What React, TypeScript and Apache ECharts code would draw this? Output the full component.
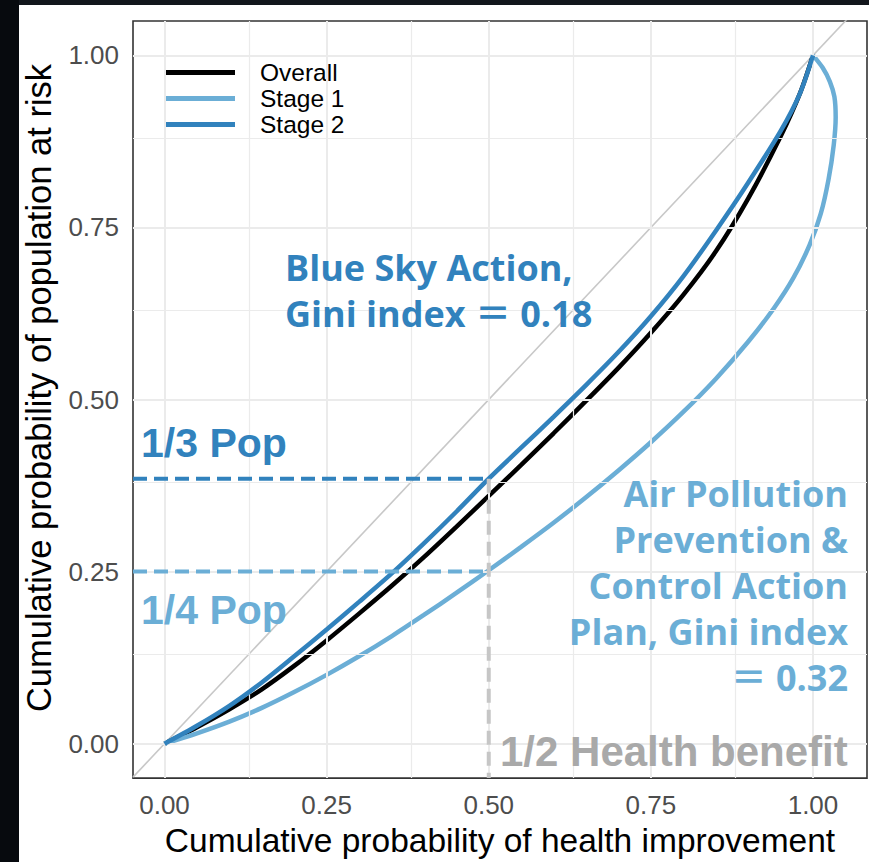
import React, { useEffect, useRef } from 'react';
import * as echarts from 'echarts';

const xLimits = [-0.0486, 1.0833];
const yLimits = [-0.05, 1.05];
const majorBreaks = [0, 0.25, 0.5, 0.75, 1];
const minorBreaks = [0.125, 0.375, 0.625, 0.875];
const seriesNames = ['Overall', 'Stage 1', 'Stage 2'];

const overall: [number, number][] = [
  [0, 0], [0.05, 0.024], [0.1, 0.05], [0.15, 0.079], [0.2, 0.113], [0.25, 0.15],
  [0.3, 0.189], [0.35, 0.229], [0.4, 0.271], [0.45, 0.315], [0.5, 0.36], [0.55, 0.405],
  [0.6, 0.451], [0.65, 0.498], [0.7, 0.546], [0.75, 0.597], [0.8, 0.652], [0.85, 0.715],
  [0.9, 0.792], [0.95, 0.882], [0.98, 0.945], [1, 1],
];

const stage1: [number, number][] = [
  [0, 0], [0.05, 0.015], [0.1, 0.032], [0.15, 0.052], [0.2, 0.075], [0.25, 0.1],
  [0.3, 0.127], [0.35, 0.156], [0.4, 0.187], [0.45, 0.219], [0.5, 0.252], [0.55, 0.286],
  [0.6, 0.321], [0.65, 0.358], [0.7, 0.397], [0.75, 0.438], [0.8, 0.482], [0.85, 0.53],
  [0.9, 0.584], [0.94, 0.633], [0.97, 0.677], [0.995, 0.725], [1.012, 0.77], [1.024, 0.82],
  [1.032, 0.87], [1.035, 0.91], [1.033, 0.94], [1.026, 0.962], [1.015, 0.982], [1, 1],
];

const stage2: [number, number][] = [
  [0, 0], [0.05, 0.026], [0.1, 0.055], [0.15, 0.089], [0.2, 0.127], [0.25, 0.166],
  [0.3, 0.206], [0.35, 0.247], [0.4, 0.291], [0.45, 0.337], [0.5, 0.385], [0.55, 0.43],
  [0.6, 0.475], [0.65, 0.521], [0.7, 0.569], [0.75, 0.621], [0.8, 0.679], [0.85, 0.745],
  [0.9, 0.815], [0.95, 0.89], [0.98, 0.945], [1, 1],
];

const popThird = 0.385;
const popQuarter = 0.25;
const halfBenefit = 0.5;

const C_OVERALL = '#000000';
const C_STAGE1 = '#6baed6';
const C_STAGE2 = '#3182bd';
const C_GRAY_TEXT = '#a9a9a9';
const C_GRAY_DASH = '#c6c6c6';
const C_GRID = '#ebebeb';

const FONT = '"Liberation Sans", Arial, sans-serif';
const ANNOT_FONT = '"Open Sans", "Noto Sans CJK JP", sans-serif';

export default function App() {
  const ref = useRef<HTMLDivElement>(null);

  useEffect(() => {
    if (!ref.current) return;
    const chart = echarts.init(ref.current, undefined, { renderer: 'svg' });

    const gridLines = [
      ...majorBreaks.map((b) => ({ xAxis: b, lineStyle: { width: 2 } })),
      ...minorBreaks.map((b) => ({ xAxis: b, lineStyle: { width: 1.2 } })),
      ...majorBreaks.map((b) => ({ yAxis: b, lineStyle: { width: 2 } })),
      ...minorBreaks.map((b) => ({ yAxis: b, lineStyle: { width: 1.2 } })),
    ];

    const curve = (name: string, data: [number, number][], color: string, z: number) => ({
      name,
      type: 'line',
      data,
      color,
      smooth: 0.3,
      symbol: 'none',
      showSymbol: false,
      lineStyle: { color, width: 4.5 },
      z,
    });

    const dashed = (data: [number, number][], color: string) => ({
      type: 'line',
      data,
      symbol: 'none',
      showSymbol: false,
      lineStyle: { color, width: 4, type: [14, 7] },
      z: 6,
    });

    const annot = (text: string, x: number, y: number, color: string, align: string) => ({
      type: 'text', x, y, z: 10,
      style: {
        text, fill: color, fontFamily: ANNOT_FONT, fontWeight: 'bold', fontSize: 36,
        align, verticalAlign: 'middle',
      },
    });

    chart.setOption({
      animation: false,
      backgroundColor: '#ffffff',
      textStyle: { fontFamily: FONT },
      grid: {
        left: 133,
        right: 2,
        top: 21,
        bottom: 82,
        show: true,
        backgroundColor: '#ffffff',
        borderColor: '#333333',
        borderWidth: 1.6,
        containLabel: false,
      },
      legend: {
        data: seriesNames,
        orient: 'vertical',
        left: 165,
        top: 60,
        icon: 'rect',
        itemWidth: 70,
        itemHeight: 5,
        itemGap: 1,
        padding: 0,
        textStyle: {
          fontSize: 24.5,
          fontFamily: FONT,
          color: '#000000',
          lineHeight: 25,
          padding: [0, 0, 0, 20],
        },
      },
      xAxis: {
        type: 'value',
        min: xLimits[0],
        max: xLimits[1],
        name: 'Cumulative probability of health improvement',
        nameLocation: 'middle',
        nameGap: 40,
        nameTextStyle: { fontSize: 33.5, color: '#000000', fontFamily: FONT },
        axisLine: { show: false },
        splitLine: { show: false },
        axisTick: {
          show: true,
          customValues: majorBreaks,
          length: 8,
          lineStyle: { color: '#333333', width: 2 },
        },
        axisLabel: {
          customValues: majorBreaks,
          formatter: (v: number) => v.toFixed(2),
          fontSize: 26,
          color: '#4d4d4d',
          margin: 14,
          fontFamily: FONT,
        },
      },
      yAxis: {
        type: 'value',
        min: yLimits[0],
        max: yLimits[1],
        axisLine: { show: false },
        splitLine: { show: false },
        axisTick: {
          show: true,
          customValues: majorBreaks,
          length: 8,
          lineStyle: { color: '#333333', width: 2 },
        },
        axisLabel: {
          customValues: majorBreaks,
          formatter: (v: number) => v.toFixed(2),
          fontSize: 26,
          color: '#4d4d4d',
          margin: 14,
          fontFamily: FONT,
        },
      },
      series: [
        {
          name: 'grid-lines',
          type: 'line',
          data: [],
          symbol: 'none',
          z: 1,
          markLine: {
            silent: true,
            symbol: ['none', 'none'],
            label: { show: false },
            lineStyle: { color: C_GRID, type: 'solid' },
            data: gridLines,
          },
        },
        {
          name: 'diagonal',
          type: 'line',
          data: [
            [xLimits[0], xLimits[0]],
            [xLimits[1], xLimits[1]],
          ],
          symbol: 'none',
          lineStyle: { color: '#c8c8c8', width: 1.6 },
          z: 2,
        },
        curve('Overall', overall, C_OVERALL, 3),
        curve('Stage 1', stage1, C_STAGE1, 4),
        curve('Stage 2', stage2, C_STAGE2, 5),
        dashed([[xLimits[0], popThird], [halfBenefit, popThird]], C_STAGE2),
        dashed([[xLimits[0], popQuarter], [halfBenefit, popQuarter]], C_STAGE1),
        dashed([[halfBenefit, popThird], [halfBenefit, yLimits[0]]], C_GRAY_DASH),
      ],
      graphic: [
        { type: 'rect', shape: { x: 0, y: 0, width: 869, height: 5 }, style: { fill: '#12161c' }, silent: true },
        { type: 'rect', shape: { x: 0, y: 0, width: 19, height: 862 }, style: { fill: '#070a0e' }, silent: true },
        {
          type: 'text', x: 39, y: 388, rotation: Math.PI / 2, z: 10,
          style: {
            text: 'Cumulative probability of population at risk',
            fill: '#000000', fontFamily: FONT, fontSize: 34.5,
            align: 'center', verticalAlign: 'middle',
          },
        },
        annot('Blue Sky Action,', 285, 267, C_STAGE2, 'left'),
        annot('Gini index ＝ 0.18', 285, 313, C_STAGE2, 'left'),
        {
          type: 'text', x: 141, y: 443, z: 10,
          style: { text: '1/3 Pop', fill: C_STAGE2, fontFamily: FONT, fontWeight: 'bold', fontSize: 41, align: 'left', verticalAlign: 'middle' },
        },
        {
          type: 'text', x: 141, y: 610, z: 10,
          style: { text: '1/4 Pop', fill: C_STAGE1, fontFamily: FONT, fontWeight: 'bold', fontSize: 41, align: 'left', verticalAlign: 'middle' },
        },
        annot('Air Pollution', 848, 493, C_STAGE1, 'right'),
        annot('Prevention &', 848, 539, C_STAGE1, 'right'),
        annot('Control Action', 848, 585, C_STAGE1, 'right'),
        annot('Plan, Gini index', 848, 631, C_STAGE1, 'right'),
        annot('＝ 0.32', 848, 677, C_STAGE1, 'right'),
        {
          type: 'text', x: 500, y: 751, z: 10,
          style: { text: '1/2 Health benefit', fill: C_GRAY_TEXT, fontFamily: FONT, fontWeight: 'bold', fontSize: 42, align: 'left', verticalAlign: 'middle' },
        },
      ],
    });

    return () => chart.dispose();
  }, []);

  return (
    <div
      ref={ref}
      style={{ position: 'fixed', left: 0, top: 0, width: 869, height: 862, background: '#ffffff' }}
    />
  );
}
